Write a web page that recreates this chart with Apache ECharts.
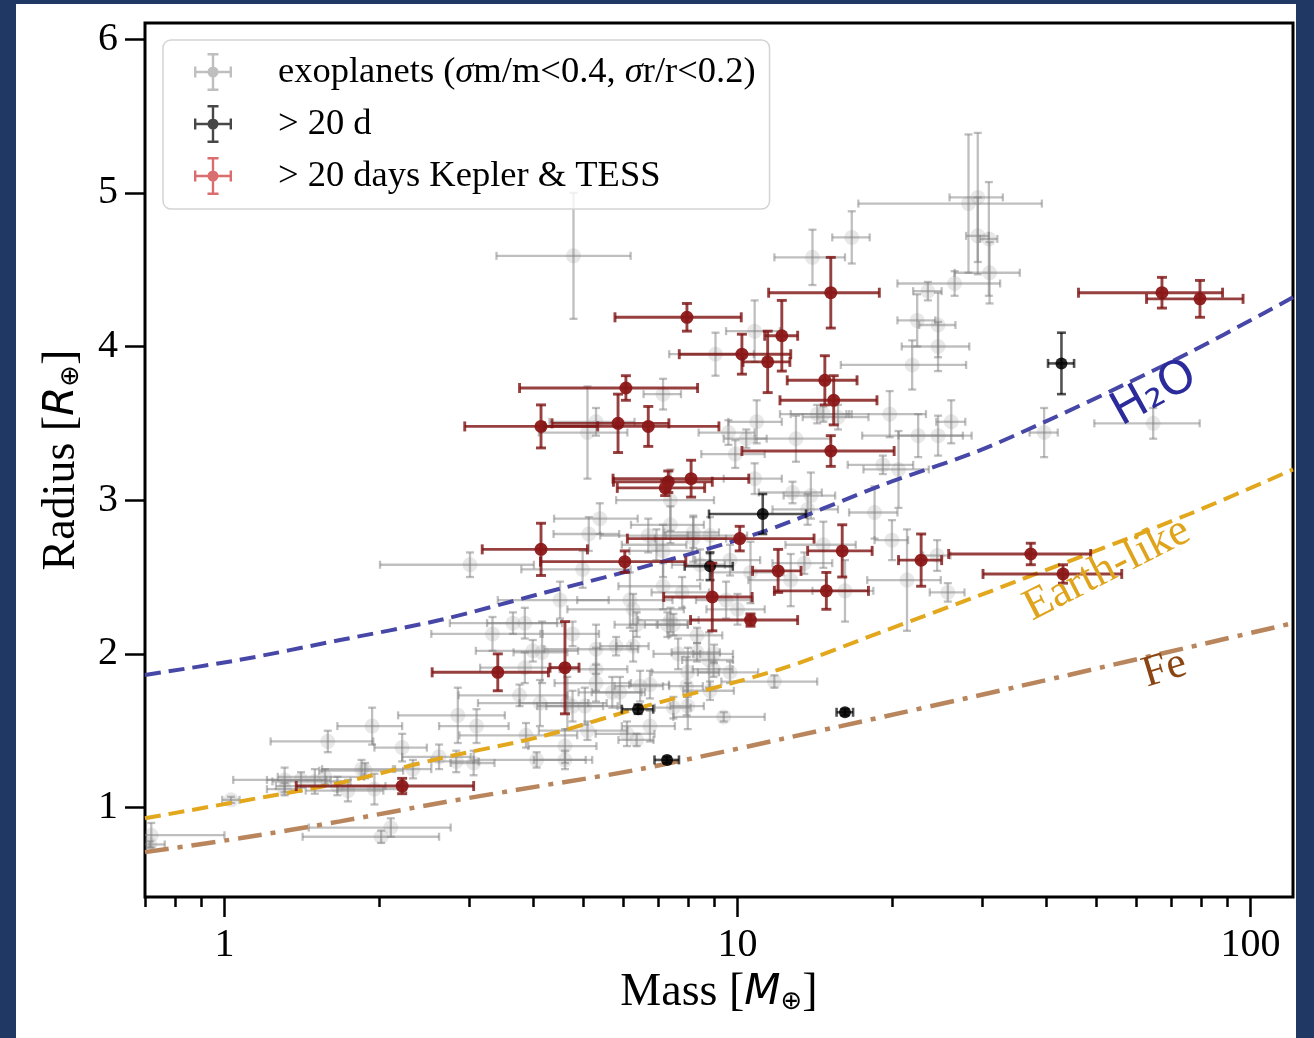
<!DOCTYPE html>
<html>
<head>
<meta charset="utf-8">
<script src="https://cdn.jsdelivr.net/npm/echarts@6/dist/echarts.min.js"></script>
<style>
  html, body { margin: 0; padding: 0; width: 1314px; height: 1038px; background: #1f3864; overflow: hidden; }
  #main { position: absolute; left: 16px; top: 4px; width: 1280px; height: 1034px; background: #fff; }
</style>
</head>
<body>
<div id="main"></div>
<script>
// 轴范围
var massMin = 0.7;
var massMax = 121;
var radiusMin = 0.418;
var radiusMax = 6.105;
// 刻度
var massMajorTicks = [1, 10, 100];
var massMinorTicks = [0.7, 0.8, 0.9, 2, 3, 4, 5, 6, 7, 8, 9, 20, 30, 40, 50, 60, 70, 80, 90];
var radiusTicks = [1, 2, 3, 4, 5, 6];

// 图例名称
var legendNames = ['exoplanets (σm/m<0.4, σr/r<0.2)', '> 20 d', '> 20 days Kepler & TESS'];

// [质量, 质量误差, 半径, 半径误差]
var exoplanets = [
  [0.72, 0.28, 0.82, 0.08], [0.715, 0.05, 0.76, 0.02], [1.03, 0.04, 1.05, 0.02], [1.59, 0.36, 1.43, 0.07],
  [1.94, 0.28, 1.53, 0.12], [2.22, 0.26, 1.39, 0.09], [2.85, 0.67, 1.60, 0.18], [3.10, 0.48, 1.53, 0.11],
  [2.62, 0.40, 1.33, 0.08], [2.83, 0.30, 1.30, 0.07], [3.06, 0.30, 1.29, 0.08], [1.85, 0.30, 1.25, 0.06],
  [2.33, 0.20, 1.25, 0.06], [1.31, 0.27, 1.18, 0.08], [1.41, 0.20, 1.18, 0.05], [1.50, 0.26, 1.17, 0.08],
  [1.57, 0.30, 1.20, 0.05], [1.31, 0.10, 1.12, 0.04], [1.66, 0.40, 1.14, 0.06], [1.74, 0.30, 1.11, 0.07],
  [1.96, 0.30, 1.12, 0.10], [1.88, 0.35, 1.24, 0.05], [2.02, 0.60, 0.81, 0.04], [2.11, 0.65, 0.87, 0.06],
  [3.01, 1.00, 2.58, 0.08], [4.99, 1.20, 2.55, 0.12], [5.39, 1.00, 2.88, 0.10], [5.13, 0.75, 2.78, 0.11],
  [4.51, 1.10, 2.35, 0.12], [3.33, 0.80, 2.13, 0.11], [3.65, 0.90, 2.20, 0.07], [3.85, 0.60, 2.20, 0.10],
  [4.77, 0.60, 2.13, 0.08], [3.99, 0.90, 2.02, 0.07], [4.16, 0.50, 2.01, 0.20], [3.85, 0.70, 1.91, 0.10],
  [3.76, 0.90, 1.73, 0.07], [4.12, 1.00, 1.68, 0.15], [4.66, 0.90, 1.68, 0.17], [4.77, 0.70, 1.66, 0.10],
  [5.04, 0.80, 1.66, 0.12], [5.30, 0.80, 1.90, 0.14], [5.30, 1.10, 2.03, 0.16], [5.80, 0.40, 2.05, 0.06],
  [6.26, 0.45, 2.05, 0.10], [6.17, 1.30, 2.35, 0.18], [6.26, 1.60, 2.29, 0.10], [6.36, 0.60, 2.19, 0.08],
  [7.30, 0.70, 2.19, 0.08], [7.50, 0.50, 2.19, 0.07], [6.70, 1.30, 2.77, 0.11], [7.16, 1.00, 2.67, 0.17],
  [7.40, 1.60, 3.00, 0.20], [3.87, 1.00, 1.47, 0.08], [4.06, 1.00, 1.31, 0.05], [4.61, 0.70, 1.40, 0.11],
  [4.61, 0.60, 1.31, 0.06], [5.10, 1.00, 1.50, 0.06], [6.09, 0.80, 1.48, 0.08], [6.36, 0.50, 1.44, 0.04],
  [6.75, 0.80, 1.53, 0.10], [7.50, 0.60, 1.65, 0.07], [6.75, 0.60, 1.80, 0.09], [5.90, 0.70, 1.75, 0.10],
  [7.96, 0.60, 1.79, 0.19], [9.06, 1.70, 3.95, 0.14], [10.8, 1.30, 4.10, 0.20], [7.16, 0.60, 3.69, 0.10],
  [9.60, 1.20, 3.44, 0.08], [10.9, 1.30, 3.51, 0.14], [10.4, 1.00, 3.40, 0.06], [13.0, 2.20, 3.40, 0.15],
  [9.90, 1.40, 3.30, 0.09], [14.3, 2.20, 3.56, 0.06], [14.7, 2.00, 3.56, 0.05], [15.7, 2.30, 3.54, 0.08],
  [19.8, 3.50, 3.56, 0.15], [22.5, 5.00, 3.42, 0.14], [24.6, 4.00, 3.42, 0.13], [26.1, 1.70, 3.51, 0.14],
  [24.6, 3.70, 4.00, 0.16], [21.9, 6.00, 3.88, 0.16], [19.2, 2.80, 3.23, 0.06], [20.6, 3.00, 3.20, 0.25],
  [18.5, 2.00, 2.92, 0.17], [20.0, 1.50, 2.74, 0.13], [21.4, 3.50, 2.48, 0.33], [24.5, 1.50, 2.64, 0.10],
  [25.7, 2.00, 2.40, 0.06], [16.2, 2.20, 2.41, 0.20], [14.7, 2.30, 2.71, 0.15], [13.5, 1.80, 2.59, 0.07],
  [12.7, 2.20, 2.48, 0.17], [10.8, 1.40, 3.14, 0.10], [12.8, 1.80, 3.05, 0.07], [13.9, 1.60, 3.03, 0.15],
  [13.7, 2.00, 2.94, 0.10], [8.84, 1.60, 2.77, 0.12], [9.67, 1.40, 2.61, 0.10], [10.6, 1.70, 2.53, 0.20],
  [9.50, 1.20, 2.35, 0.12], [10.0, 1.30, 2.29, 0.10], [7.40, 1.00, 2.22, 0.08], [11.8, 2.50, 1.82, 0.04],
  [9.40, 1.90, 1.59, 0.03], [8.34, 1.00, 2.12, 0.05], [8.34, 0.90, 2.01, 0.06], [8.80, 1.00, 1.96, 0.18],
  [8.00, 1.20, 1.88, 0.16], [9.67, 1.30, 1.88, 0.07], [8.98, 0.80, 1.90, 0.05], [8.00, 0.60, 1.66, 0.15],
  [8.84, 1.00, 1.76, 0.06], [16.7, 1.40, 4.71, 0.17], [14.0, 2.20, 4.58, 0.18], [28.2, 11.0, 4.93, 0.45],
  [29.4, 3.50, 4.97, 0.42], [29.4, 1.50, 4.72, 0.25], [30.9, 1.20, 4.70, 0.37], [31.0, 4.50, 4.48, 0.20],
  [26.5, 6.00, 4.41, 0.08], [23.5, 1.50, 4.36, 0.06], [22.4, 1.90, 4.17, 0.17], [24.6, 2.00, 4.14, 0.21],
  [39.6, 2.50, 3.44, 0.16], [64.6, 15.0, 3.50, 0.10], [4.79, 1.40, 4.59, 0.41], [5.10, 1.00, 3.44, 0.30],
  [5.30, 1.00, 3.51, 0.09], [9.00, 0.80, 2.00, 0.06], [7.66, 0.80, 2.00, 0.10], [5.30, 0.90, 1.81, 0.12],
  [5.70, 0.80, 1.75, 0.10], [6.46, 0.70, 1.79, 0.10], [6.95, 1.00, 2.71, 0.10], [7.40, 1.20, 2.84, 0.12],
  [8.20, 1.30, 2.75, 0.15], [8.45, 1.00, 2.58, 0.10], [7.16, 1.30, 2.44, 0.15], [7.80, 1.00, 2.40, 0.10],
  [8.20, 1.00, 2.79, 0.10]
];

// > 20 d
var longPeriod = [
  [11.2, 2.4, 2.91, 0.13], [8.84, 0.95, 2.57, 0.09], [6.40, 0.45, 1.64, 0.03],
  [7.29, 0.40, 1.31, 0.02], [16.2, 0.60, 1.62, 0.02], [42.8, 2.5, 3.89, 0.20]
];

// > 20 days Kepler & TESS
var keplerTess = [
  [2.22, 0.84, 1.14, 0.05], [3.41, 0.87, 1.88, 0.12], [4.61, 0.30, 1.91, 0.30], [4.14, 0.96, 2.68, 0.17],
  [6.03, 1.90, 2.60, 0.07], [7.33, 1.60, 3.12, 0.07], [7.23, 1.40, 3.08, 0.05], [8.12, 2.40, 3.14, 0.12],
  [4.14, 1.20, 3.48, 0.14], [5.85, 1.50, 3.50, 0.19], [6.70, 2.50, 3.48, 0.13], [6.06, 2.30, 3.73, 0.08],
  [7.97, 2.20, 4.19, 0.09], [10.2, 2.50, 3.95, 0.13], [11.45, 1.20, 3.90, 0.20], [12.2, 0.90, 4.07, 0.23],
  [15.2, 3.70, 4.35, 0.23], [14.8, 2.30, 3.78, 0.16], [15.4, 3.30, 3.65, 0.16], [15.2, 5.00, 3.32, 0.10],
  [10.1, 4.00, 2.75, 0.08], [16.0, 2.30, 2.67, 0.17], [22.8, 2.20, 2.61, 0.17], [12.0, 1.30, 2.54, 0.14],
  [14.9, 3.10, 2.41, 0.12], [8.93, 1.75, 2.37, 0.22], [10.6, 2.50, 2.22, 0.04], [37.3, 11.5, 2.65, 0.07],
  [43.1, 13.0, 2.52, 0.06], [67.2, 21.0, 4.35, 0.10], [79.7, 17.0, 4.31, 0.12]
];

// 组成曲线
var h2oMass = [0.70, 1.07, 1.68, 2.63, 4.12, 6.46, 11.1, 19.2, 31.0, 70, 121];
var h2oRadius = [1.863, 1.961, 2.09, 2.22, 2.39, 2.56, 2.79, 3.10, 3.35, 3.90, 4.32];
var earthMass = [0.70, 1.07, 1.68, 2.63, 4.12, 6.46, 12.1, 19.0, 35.5, 76, 121];
var earthRadius = [0.93, 1.04, 1.16, 1.32, 1.46, 1.65, 1.90, 2.14, 2.48, 2.91, 3.20];
var feMass = [0.70, 1.07, 1.68, 2.63, 4.12, 6.46, 15.9, 35.5, 121];
var feRadius = [0.71, 0.80, 0.91, 1.03, 1.14, 1.25, 1.53, 1.79, 2.20];

// 曲线标注
var curveLabels = ['H₂O', 'Earth-like', 'Fe'];
var curveLabelMass = [65, 52.5, 68];
var curveLabelRadius = [3.69, 2.55, 1.90];

var serif = '"Liberation Serif", "DejaVu Serif", serif';

function zip(a, b) {
  var out = [];
  for (var i = 0; i < a.length; i++) out.push([a[i], b[i]]);
  return out;
}

// 误差棒绘制
function errorBar(st) {
  return function (params, api) {
    var m = api.value(0), me = api.value(1), r = api.value(2), re = api.value(3);
    var cs = params.coordSys;
    var c = api.coord([m, r]);
    var leftCapped = (m - me) > massMin;
    var left = (m - me) > 0 ? api.coord([m - me, r])[0] : cs.x - 10;
    left = Math.max(left, cs.x);
    var right = api.coord([m + me, r])[0];
    var top = api.coord([m, r + re])[1];
    var bot = api.coord([m, r - re])[1];
    var ls = { stroke: st.stroke, lineWidth: st.width };
    var h = st.cap;
    var kids = [
      { type: 'line', shape: { x1: left, y1: c[1], x2: right, y2: c[1] }, style: ls },
      { type: 'line', shape: { x1: c[0], y1: top, x2: c[0], y2: bot }, style: ls },
      { type: 'line', shape: { x1: right, y1: c[1] - h, x2: right, y2: c[1] + h }, style: ls },
      { type: 'line', shape: { x1: c[0] - h, y1: top, x2: c[0] + h, y2: top }, style: ls },
      { type: 'line', shape: { x1: c[0] - h, y1: bot, x2: c[0] + h, y2: bot }, style: ls }
    ];
    if (leftCapped) {
      kids.push({ type: 'line', shape: { x1: left, y1: c[1] - h, x2: left, y2: c[1] + h }, style: ls });
    }
    kids.push({ type: 'circle', shape: { cx: c[0], cy: c[1], r: st.r }, style: { fill: st.fill } });
    return { type: 'group', children: kids };
  };
}

// 图例图标：十字误差棒 + 圆点
var barIcon = 'path://M0 17.8h38v2.4H0z M0 13.5h2.4v11H0z M35.6 13.5h2.4v11h-2.4z M17.8 0h2.4v38h-2.4z M13.5 0h11v2.4h-11z M13.5 35.6h11v2.4h-11z M13.5 19a5.5 5.5 0 1 1 11 0a5.5 5.5 0 1 1 -11 0z';

var myChart = echarts.init(document.getElementById('main'));
var option = {
  animation: false,
  grid: { left: 129, top: 19, right: 3, bottom: 141, show: true, borderColor: '#000', borderWidth: 3, backgroundColor: 'transparent' },
  legend: {
    orient: 'vertical', left: 147, top: 36,
    padding: [13, 14, 14, 31], itemWidth: 38, itemHeight: 38, itemGap: 14,
    backgroundColor: 'rgba(255,255,255,0.8)', borderColor: '#d4d4d4', borderWidth: 1.5, borderRadius: 8,
    data: [
      { name: legendNames[0], icon: barIcon, itemStyle: { color: 'rgba(128,128,128,0.5)' } },
      { name: legendNames[1], icon: barIcon, itemStyle: { color: 'rgba(0,0,0,0.72)' } },
      { name: legendNames[2], icon: barIcon, itemStyle: { color: 'rgba(200,40,40,0.68)' } }
    ],
    formatter: function (name) {
      return '{sp|}' + name.replace(/σ/g, '{i|σ}');
    },
    textStyle: {
      fontFamily: serif, fontSize: 36.5, color: '#000', lineHeight: 38,
      rich: {
        sp: { width: 41 },
        i: { fontFamily: serif, fontStyle: 'italic', fontSize: 36.5 }
      }
    }
  },
  xAxis: [
    {
      type: 'log', logBase: 10, min: massMin, max: massMax, position: 'bottom',
      name: 'Mass [{i|M}{s|⊕}]', nameLocation: 'middle', nameGap: 66,
      nameTextStyle: {
        fontFamily: serif, fontSize: 46, color: '#000',
        rich: {
          i: { fontFamily: '"DejaVu Sans"', fontStyle: 'italic', fontSize: 42 },
          s: { fontFamily: '"DejaVu Sans"', fontSize: 26, padding: [18, 0, 0, 0] }
        }
      },
      axisLine: { show: false },
      splitLine: { show: false },
      axisTick: { show: true, inside: false, length: 20, lineStyle: { color: '#000', width: 2.5 }, customValues: massMajorTicks },
      axisLabel: { fontFamily: serif, fontSize: 40, color: '#000', margin: 28, customValues: massMajorTicks,
        formatter: function (v) { return String(Math.round(v)); } }
    },
    {
      type: 'log', logBase: 10, min: massMin, max: massMax, position: 'bottom',
      axisLine: { show: false },
      splitLine: { show: false },
      axisLabel: { show: false },
      axisTick: { show: true, length: 10, lineStyle: { color: '#000', width: 2.5 }, customValues: massMinorTicks }
    }
  ],
  yAxis: {
    type: 'value', min: radiusMin, max: radiusMax,
    name: 'Radius [{i|R}{s|⊕}]', nameLocation: 'middle', nameGap: 60, nameRotate: 90,
    nameTextStyle: {
      fontFamily: serif, fontSize: 46, color: '#000',
      rich: {
        i: { fontFamily: '"DejaVu Sans"', fontStyle: 'italic', fontSize: 42 },
        s: { fontFamily: '"DejaVu Sans"', fontSize: 26, padding: [18, 0, 0, 0] }
      }
    },
    axisLine: { show: false },
    splitLine: { show: false },
    axisTick: { show: true, length: 20, lineStyle: { color: '#000', width: 2.5 }, customValues: radiusTicks },
    axisLabel: { fontFamily: serif, fontSize: 40, color: '#000', margin: 27, customValues: radiusTicks }
  },
  series: [
    {
      name: legendNames[0], type: 'custom', clip: true, z: 2,
      itemStyle: { color: 'rgba(128,128,128,0.5)' },
      encode: { x: 0, y: 2 },
      renderItem: errorBar({ stroke: 'rgba(128,128,128,0.5)', width: 2.3, cap: 4, r: 7.5, fill: 'rgba(128,128,128,0.18)' }),
      data: exoplanets
    },
    {
      name: 'H2O', type: 'line', smooth: 0.3, showSymbol: false, symbol: 'none', z: 3,
      lineStyle: { color: '#4747a8', width: 4, type: [16, 8] },
      data: zip(h2oMass, h2oRadius)
    },
    {
      name: 'Earth-like', type: 'line', smooth: 0.3, showSymbol: false, symbol: 'none', z: 3,
      lineStyle: { color: '#e2a71c', width: 4, type: [16, 8] },
      data: zip(earthMass, earthRadius)
    },
    {
      name: 'Fe', type: 'line', smooth: 0.3, showSymbol: false, symbol: 'none', z: 3,
      lineStyle: { color: '#b9855c', width: 4.5, type: [24, 9, 5, 9] },
      data: zip(feMass, feRadius)
    },
    {
      name: legendNames[1], type: 'custom', clip: true, z: 4,
      itemStyle: { color: 'rgba(0,0,0,0.72)' },
      encode: { x: 0, y: 2 },
      renderItem: errorBar({ stroke: 'rgba(0,0,0,0.68)', width: 2.6, cap: 4.5, r: 6, fill: 'rgba(0,0,0,0.85)' }),
      data: longPeriod
    },
    {
      name: legendNames[2], type: 'custom', clip: true, z: 5,
      itemStyle: { color: 'rgba(139,26,26,0.9)' },
      encode: { x: 0, y: 2 },
      renderItem: errorBar({ stroke: 'rgba(128,22,22,0.82)', width: 2.9, cap: 5, r: 6.5, fill: 'rgba(140,24,24,0.95)' }),
      data: keplerTess
    },
    {
      name: 'curveLabels', type: 'custom', z: 6, silent: true,
      encode: { x: 0, y: 1 },
      renderItem: function (params, api) {
        var p = api.coord([api.value(0), api.value(1)]);
        var i = params.dataIndex;
        var looks = [
          { fill: '#2b2b9c', font: '46px "DejaVu Sans"', rot: 29 },
          { fill: '#e0a41c', font: '45px ' + serif, rot: 27 },
          { fill: '#8b4513', font: '44px ' + serif, rot: 17 }
        ][i];
        return {
          type: 'text', x: p[0], y: p[1], rotation: looks.rot * Math.PI / 180,
          style: { text: curveLabels[i], fill: looks.fill, font: looks.font, align: 'center', verticalAlign: 'middle' }
        };
      },
      data: zip(curveLabelMass, curveLabelRadius)
    }
  ]
};
myChart.setOption(option);
</script>
</body>
</html>
